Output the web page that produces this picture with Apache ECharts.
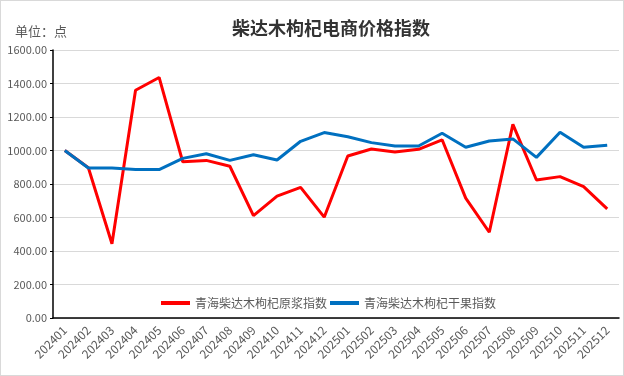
<!DOCTYPE html>
<html>
<head>
<meta charset="utf-8">
<script src="https://cdn.jsdelivr.net/npm/echarts@6/dist/echarts.min.js"></script>
<style>
  html, body { margin: 0; padding: 0; background: #fff; }
  #chart { width: 622px; height: 374px; border: 1px solid #d9d9d9; }
</style>
</head>
<body>
<div id="chart"></div>
<script>
const months = ['202401', '202402', '202403', '202404', '202405', '202406', '202407', '202408',
  '202409', '202410', '202411', '202412', '202501', '202502', '202503', '202504',
  '202505', '202506', '202507', '202508', '202509', '202510', '202511', '202512'];

const pulpIndex = [1000, 897, 443, 1360, 1436, 933, 941, 906,
  611, 728, 780, 602, 967, 1009, 991, 1007,
  1064, 716, 512, 1156, 824, 844, 784, 651];

const driedIndex = [1000, 896, 896, 886, 886, 953, 981, 941,
  975, 943, 1055, 1107, 1082, 1047, 1027, 1027,
  1103, 1019, 1057, 1069, 959, 1109, 1019, 1031];

const seriesNames = ['青海柴达木枸杞原浆指数', '青海柴达木枸杞干果指数'];

const chart = echarts.init(document.getElementById('chart'));

const textColor = '#595959';
const font = "'Noto Sans CJK SC', sans-serif";

chart.setOption({
  animation: false,
  backgroundColor: '#fff',
  textStyle: { fontFamily: font },
  title: [{
    text: '柴达木枸杞电商价格指数',
    left: 226,
    top: 13,
    textStyle: { fontFamily: font, fontSize: 18, fontWeight: 'bold', color: '#333' }
  }, {
    text: '单位：点',
    left: 9,
    top: 19,
    textStyle: { fontFamily: font, fontSize: 13, fontWeight: 'normal', color: textColor }
  }],
  legend: {
    left: 155,
    top: 291,
    itemWidth: 29,
    itemHeight: 4,
    itemGap: 3,
    icon: 'rect',
    textStyle: { fontFamily: font, fontSize: 12, color: textColor },
    data: seriesNames
  },
  grid: { left: 52, right: 4, top: 49, bottom: 57 },
  xAxis: {
    type: 'category',
    data: months,
    boundaryGap: true,
    axisLine: { lineStyle: { color: '#000', width: 1.5 } },
    axisTick: { inside: true, length: 5, lineStyle: { color: '#000' } },
    axisLabel: { rotate: 45, fontSize: 12, color: textColor, margin: 10, interval: 0 },
    splitLine: { show: false }
  },
  yAxis: {
    type: 'value',
    min: 0,
    max: 1600,
    interval: 200,
    axisLine: { show: true, lineStyle: { color: '#000', width: 1.5 } },
    axisTick: { show: true, length: 3, lineStyle: { color: '#000' } },
    axisLabel: { fontSize: 11, color: textColor, margin: 6, formatter: v => v.toFixed(2) },
    splitLine: { lineStyle: { color: '#d9d9d9' } }
  },
  series: [{
    name: seriesNames[0],
    type: 'line',
    data: pulpIndex,
    symbol: 'none',
    lineStyle: { color: '#ff0000', width: 3 },
    itemStyle: { color: '#ff0000' }
  }, {
    name: seriesNames[1],
    type: 'line',
    data: driedIndex,
    symbol: 'none',
    lineStyle: { color: '#0070c0', width: 3 },
    itemStyle: { color: '#0070c0' }
  }]
});
</script>
</body>
</html>
